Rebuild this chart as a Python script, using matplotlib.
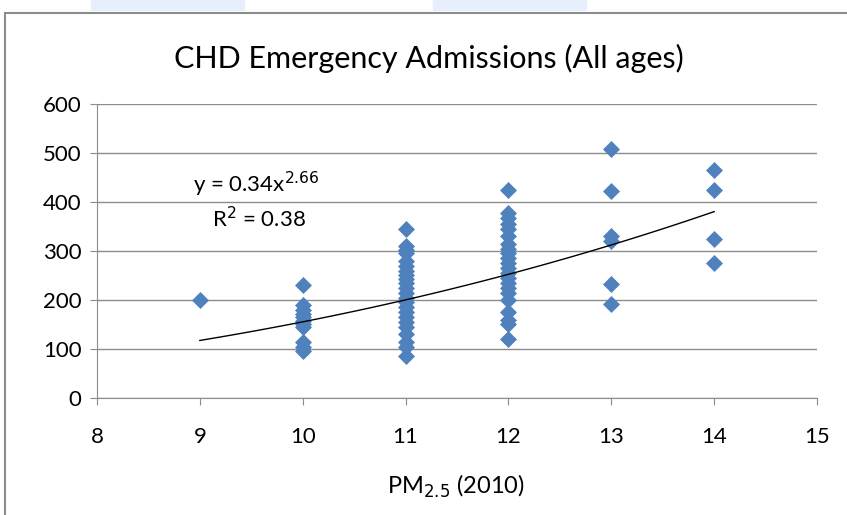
import numpy as np
import matplotlib.pyplot as plt
from matplotlib.patches import Rectangle

plt.rcParams['font.family'] = ['Lato', 'DejaVu Sans']

# PM2.5 level and admissions
pm_9 = [200]
pm_10 = [230, 190, 180, 172, 165, 158, 150, 145, 115, 105, 95]
pm_11 = [345, 310, 303, 295, 280, 270, 260, 250, 243, 235, 225, 215,
         205, 195, 185, 175, 165, 155, 145, 130, 115, 105, 85]
pm_12 = [425, 378, 368, 355, 345, 330, 315, 305, 295, 285, 275, 265,
         255, 245, 235, 225, 215, 200, 175, 160, 150, 120]
pm_13 = [508, 422, 330, 320, 232, 192]
pm_14 = [465, 425, 325, 275]

groups = {9: pm_9, 10: pm_10, 11: pm_11, 12: pm_12, 13: pm_13, 14: pm_14}
xs = np.concatenate([[k] * len(v) for k, v in groups.items()])
ys = np.concatenate([v for v in groups.values()])

# trendline coefficients shown in the chart
coef_a = 0.34
coef_b = 2.66

fig = plt.figure(figsize=(8.47, 5.15), dpi=100)
ax = fig.add_axes([0.1145, 0.2272, 0.8501, 0.5709])

ax.scatter(xs, ys, marker='D', s=75, color='#4F81BD', zorder=3, linewidths=0)
tx = np.linspace(9, 14, 100)
ax.plot(tx, coef_a * tx ** coef_b, color='black', linewidth=1, zorder=4)

ax.set_xlim(8, 15)
ax.set_ylim(0, 600)
ax.set_xticks(range(8, 16))
ax.set_yticks(range(0, 700, 100))
ax.yaxis.grid(True, color='#8c8c8c', linewidth=1)
ax.set_axisbelow(True)
for s in ['top', 'right']:
    ax.spines[s].set_visible(False)
for s in ['left', 'bottom']:
    ax.spines[s].set_color('#8c8c8c')
ax.tick_params(axis='both', labelsize=16, color='#8c8c8c', length=5)
ax.tick_params(axis='x', pad=16)
ax.tick_params(axis='y', pad=6)

fig.text(429 / 847, 1 - 58 / 515, 'CHD Emergency Admissions (All ages)',
         fontsize=22, ha='center', va='center')
fig.text(456 / 847, 1 - 486 / 515, 'PM$_{2.5}$ (2010)',
         fontsize=17, ha='center', va='center')

ax.text(9.55, 436, 'y = 0.34x$^{2.66}$', fontsize=16, ha='center', va='center')
ax.text(9.57, 366, 'R$^{2}$ = 0.38', fontsize=16, ha='center', va='center')

# chart frame and top bars
fig.patches.append(Rectangle((5 / 847, -0.1), 1.1, 1 - 13 / 515 + 0.1,
                             transform=fig.transFigure, fill=False,
                             edgecolor='#8c8c8c', linewidth=1.5))
fig.patches.append(Rectangle((91 / 847, 1 - 10 / 515), 153 / 847, 10 / 515,
                             transform=fig.transFigure, color='#e8effc'))
fig.patches.append(Rectangle((433 / 847, 1 - 10 / 515), 153 / 847, 10 / 515,
                             transform=fig.transFigure, color='#e8effc'))

fig.savefig('out.png', dpi=100)
